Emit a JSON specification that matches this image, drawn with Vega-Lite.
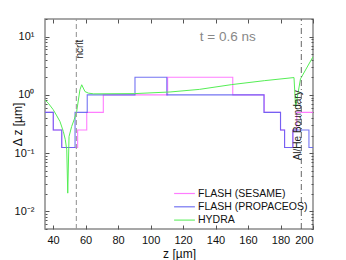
{
  "$schema": "https://vega.github.io/schema/vega-lite/v6.json",
  "width": 268,
  "height": 210,
  "autosize": {"type": "none"},
  "padding": {"left": 45, "top": 19, "right": 33, "bottom": 31},
  "config": {
    "font": "Liberation Sans",
    "view": {"stroke": "#8a8a8a", "strokeWidth": 1.5},
    "axis": {"domain": false, "grid": false, "tickColor": "#555", "labelColor": "#111", "labelFont": "Liberation Sans", "labelFontSize": 11, "titleFont": "Liberation Sans", "titleFontWeight": "normal", "titleColor": "#111"}
  },
  "datasets": {
    "steps": [
      {"s": "FLASH (SESAME)", "z": 35, "dz": 0.5},
      {"s": "FLASH (SESAME)", "z": 40.1, "dz": 0.25},
      {"s": "FLASH (SESAME)", "z": 45.3, "dz": 0.125},
      {"s": "FLASH (SESAME)", "z": 55.1, "dz": 0.25},
      {"s": "FLASH (SESAME)", "z": 60.7, "dz": 0.5},
      {"s": "FLASH (SESAME)", "z": 70.9, "dz": 1},
      {"s": "FLASH (SESAME)", "z": 110.5, "dz": 2},
      {"s": "FLASH (SESAME)", "z": 150.6, "dz": 1},
      {"s": "FLASH (SESAME)", "z": 170, "dz": 0.5},
      {"s": "FLASH (SESAME)", "z": 180, "dz": 0.25},
      {"s": "FLASH (SESAME)", "z": 182.5, "dz": 0.125},
      {"s": "FLASH (SESAME)", "z": 187.6, "dz": 0.25},
      {"s": "FLASH (SESAME)", "z": 190, "dz": 0.5},
      {"s": "FLASH (SESAME)", "z": 200, "dz": 0.5},
      {"s": "FLASH (PROPACEOS)", "z": 35, "dz": 0.5},
      {"s": "FLASH (PROPACEOS)", "z": 40.1, "dz": 0.25},
      {"s": "FLASH (PROPACEOS)", "z": 45.3, "dz": 0.125},
      {"s": "FLASH (PROPACEOS)", "z": 53.5, "dz": 0.5},
      {"s": "FLASH (PROPACEOS)", "z": 61, "dz": 1},
      {"s": "FLASH (PROPACEOS)", "z": 90.4, "dz": 2},
      {"s": "FLASH (PROPACEOS)", "z": 110, "dz": 1},
      {"s": "FLASH (PROPACEOS)", "z": 169.8, "dz": 0.5},
      {"s": "FLASH (PROPACEOS)", "z": 180, "dz": 0.25},
      {"s": "FLASH (PROPACEOS)", "z": 182.5, "dz": 0.125},
      {"s": "FLASH (PROPACEOS)", "z": 187.6, "dz": 0.25},
      {"s": "FLASH (PROPACEOS)", "z": 197.5, "dz": 0.125},
      {"s": "FLASH (PROPACEOS)", "z": 200, "dz": 0.125}
    ],
    "hydra": [
      {"s": "HYDRA", "z": 35, "dz": 0.82},
      {"s": "HYDRA", "z": 37, "dz": 0.72},
      {"s": "HYDRA", "z": 40, "dz": 0.56},
      {"s": "HYDRA", "z": 42, "dz": 0.45},
      {"s": "HYDRA", "z": 44.2, "dz": 0.35},
      {"s": "HYDRA", "z": 46.3, "dz": 0.235},
      {"s": "HYDRA", "z": 47.5, "dz": 0.17},
      {"s": "HYDRA", "z": 48.4, "dz": 0.114},
      {"s": "HYDRA", "z": 49, "dz": 0.0206},
      {"s": "HYDRA", "z": 49.8, "dz": 0.193},
      {"s": "HYDRA", "z": 51.4, "dz": 0.286},
      {"s": "HYDRA", "z": 53, "dz": 0.38},
      {"s": "HYDRA", "z": 54.5, "dz": 0.52},
      {"s": "HYDRA", "z": 56.5, "dz": 1.22},
      {"s": "HYDRA", "z": 57.6, "dz": 1.49},
      {"s": "HYDRA", "z": 59.6, "dz": 1.14},
      {"s": "HYDRA", "z": 61.7, "dz": 1.07},
      {"s": "HYDRA", "z": 65, "dz": 1.04},
      {"s": "HYDRA", "z": 90, "dz": 1.05},
      {"s": "HYDRA", "z": 112, "dz": 1.12},
      {"s": "HYDRA", "z": 130, "dz": 1.24},
      {"s": "HYDRA", "z": 150, "dz": 1.5},
      {"s": "HYDRA", "z": 170, "dz": 1.75},
      {"s": "HYDRA", "z": 188.3, "dz": 1.98},
      {"s": "HYDRA", "z": 189.3, "dz": 0.62},
      {"s": "HYDRA", "z": 192.3, "dz": 1.88},
      {"s": "HYDRA", "z": 200, "dz": 4.5}
    ],
    "ncrit": [{"z": 54.3}],
    "boundary": [{"z": 192.8}],
    "labels": [
      {"z": 56.6, "dz": 6.1, "text": "ncrit"},
      {"z": 190.5, "dz": 0.3, "text": "Al/He Boundary"}
    ],
    "title": [
      {"z": 147.5, "dz": 10, "text": "t = 0.6 ns"}
    ]
  },
  "resolve": {"axis": {"x": "independent", "y": "independent"}},
  "layer": [
    {
      "data": {"name": "steps"},
      "transform": [{"filter": "datum.s == 'FLASH (SESAME)'"}],
      "mark": {"type": "line", "interpolate": "step-after", "strokeWidth": 1.1, "opacity": 0.85, "clip": true},
      "encoding": {
        "x": {"field": "z", "type": "quantitative", "scale": {"domain": [35, 200], "nice": false, "zero": false},
          "axis": {"orient": "bottom", "values": [40, 60, 80, 100, 120, 140, 160, 180, 200], "tickSize": -4, "labelPadding": 9, "title": "z [µm]", "titleFontSize": 12, "titlePadding": 3}},
        "y": {"field": "dz", "type": "quantitative", "scale": {"type": "log", "domain": [0.005, 20], "nice": false},
          "axis": {"orient": "left", "values": [0.01, 0.1, 1, 10], "tickSize": -4, "labelPadding": 15, "title": "Δ z [µm]", "titleFontSize": 12, "titleX": -28, "titleY": 105, "titleAngle": 270, "titleBaseline": "middle", "titleAlign": "center",
            "labelExpr": "datum.value < 0.05 ? '10⁻²' : datum.value < 0.5 ? '10⁻¹' : datum.value < 5 ? '10⁰' : '10¹'"}},
        "color": {"field": "s", "type": "nominal",
          "scale": {"domain": ["FLASH (SESAME)", "FLASH (PROPACEOS)", "HYDRA"], "range": ["#ff66ff", "#5c5cf0", "#55ee55"]},
          "legend": {"orient": "none", "legendX": 132, "legendY": 167, "title": null, "symbolType": "M-1.6,0L1.6,0", "symbolSize": 169, "symbolStrokeWidth": 1.2, "symbolFillColor": "transparent", "labelFontSize": 10.5, "labelColor": "#111", "rowPadding": 0.3, "labelOffset": 6}}
      }
    },
    {
      "data": {"name": "steps"},
      "transform": [{"filter": "datum.s == 'FLASH (PROPACEOS)'"}],
      "mark": {"type": "line", "interpolate": "step-after", "strokeWidth": 1.1, "opacity": 0.85, "clip": true},
      "encoding": {
        "x": {"field": "z", "type": "quantitative",
          "axis": {"orient": "top", "values": [40, 60, 80, 100, 120, 140, 160, 180, 200], "tickSize": -4, "labels": false, "title": null}},
        "y": {"field": "dz", "type": "quantitative",
          "axis": {"orient": "right", "values": [0.01, 0.1, 1, 10], "tickSize": -4, "labels": false, "title": null}},
        "color": {"field": "s", "type": "nominal"}
      }
    },
    {
      "data": {"name": "hydra"},
      "mark": {"type": "line", "strokeWidth": 1, "clip": true},
      "encoding": {
        "x": {"field": "z", "type": "quantitative", "axis": null},
        "y": {"field": "dz", "type": "quantitative",
          "axis": {"orient": "left", "values": [0.005, 0.006, 0.007, 0.008, 0.009, 0.02, 0.03, 0.04, 0.05, 0.06, 0.07, 0.08, 0.09, 0.2, 0.3, 0.4, 0.5, 0.6, 0.7, 0.8, 0.9, 2, 3, 4, 5, 6, 7, 8, 9, 20], "tickSize": -2, "labels": false, "title": null}},
        "color": {"field": "s", "type": "nominal"}
      }
    },
    {
      "data": {"name": "ncrit"},
      "mark": {"type": "rule", "color": "#999", "strokeWidth": 1.1, "strokeDash": [5, 3]},
      "encoding": {
        "x": {"field": "z", "type": "quantitative", "axis": null},
        "y": {"datum": 0.005, "type": "quantitative",
          "axis": {"orient": "right", "values": [0.005, 0.006, 0.007, 0.008, 0.009, 0.02, 0.03, 0.04, 0.05, 0.06, 0.07, 0.08, 0.09, 0.2, 0.3, 0.4, 0.5, 0.6, 0.7, 0.8, 0.9, 2, 3, 4, 5, 6, 7, 8, 9, 20], "tickSize": -2, "labels": false, "title": null}},
        "y2": {"datum": 20}
      }
    },
    {
      "data": {"name": "boundary"},
      "mark": {"type": "rule", "color": "#555", "strokeWidth": 0.9, "strokeDash": [6, 3, 1, 3]},
      "encoding": {
        "x": {"field": "z", "type": "quantitative", "axis": null},
        "y": {"datum": 0.005, "type": "quantitative", "axis": null},
        "y2": {"datum": 20}
      }
    },
    {
      "data": {"name": "labels"},
      "mark": {"type": "text", "angle": 270, "fontSize": 10, "color": "#222", "align": "center", "baseline": "middle"},
      "encoding": {
        "x": {"field": "z", "type": "quantitative", "axis": null},
        "y": {"field": "dz", "type": "quantitative", "axis": null},
        "text": {"field": "text"}
      }
    },
    {
      "data": {"name": "title"},
      "mark": {"type": "text", "fontSize": 13.5, "color": "#888", "align": "center", "baseline": "middle"},
      "encoding": {
        "x": {"field": "z", "type": "quantitative", "axis": null},
        "y": {"field": "dz", "type": "quantitative", "axis": null},
        "text": {"field": "text"}
      }
    }
  ]
}
